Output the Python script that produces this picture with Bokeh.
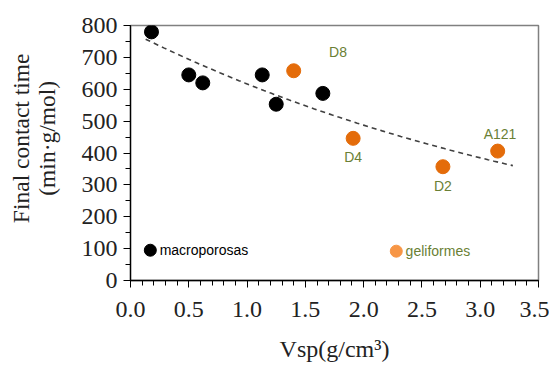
import numpy as np
from bokeh.plotting import figure
from bokeh.models import SingleIntervalTicker, PrintfTickFormatter, Range1d, Label
from bokeh.embed import file_html
from bokeh.resources import INLINE

# Data
macro_x = [0.18, 0.50, 0.62, 1.13, 1.25, 1.65]
macro_y = [780, 645, 620, 645, 553, 587]
gel_x = [1.40, 1.91, 2.68, 3.15]
gel_y = [658, 446, 357, 406]
gel_names = ["D8", "D4", "D2", "A121"]
name_x = [1.78, 1.91, 2.68, 3.17]
name_y = [718, 386, 295, 461]
legend_names = ["macroporosas", "geliformes"]
y_title = ["Final contact time", "(min·g/mol)"]
x_title = "Vsp(g/cm³)"
trend_span = [0.13, 3.28]

# exponential trendline fitted to all points (like a spreadsheet trendline)
all_x = np.array(macro_x + gel_x)
all_y = np.array(macro_y + gel_y)
b, ln_a = np.polyfit(all_x, np.log(all_y), 1)
tx = np.linspace(trend_span[0], trend_span[1], 60)
ty = np.exp(ln_a) * np.exp(b * tx)

p = figure(width=549, height=364, output_backend="svg", toolbar_location=None,
           x_range=Range1d(0, 3.5), y_range=Range1d(0, 800),
           min_border_left=130, min_border_right=11, min_border_top=25, min_border_bottom=84)
p.grid.visible = False
p.outline_line_color = "#808080"
p.outline_line_width = 1.5
p.background_fill_color = "white"
p.border_fill_color = "white"

p.line(tx, ty, line_color="#404040", line_width=1.6, line_dash="5 4")
p.scatter(macro_x, macro_y, size=14, color="black")
p.scatter(gel_x, gel_y, size=14, color="#E46C0A")

# legend markers inside plot
p.scatter([0.17], [95], size=12, color="black")
p.scatter([2.28], [92], size=12, color="#F79646")
p.add_layout(Label(x=0.25, y=95, text=legend_names[0], text_font="Liberation Sans",
                   text_font_size="14px", text_color="black", text_baseline="middle"))
p.add_layout(Label(x=2.36, y=92, text=legend_names[1], text_font="Liberation Sans",
                   text_font_size="14px", text_color="#6A7F35", text_baseline="middle"))

for nx, ny, nm in zip(name_x, name_y, gel_names):
    p.add_layout(Label(x=nx, y=ny, text=nm, text_font="Liberation Sans",
                       text_font_size="14px", text_color="#6A7F35",
                       text_align="center", text_baseline="middle"))

for ax in (p.xaxis[0], p.yaxis[0]):
    ax.axis_line_color = "black"
    ax.axis_line_width = 1.3
    ax.major_tick_line_color = "black"
    ax.minor_tick_line_color = "black"
    ax.major_tick_in = 0
    ax.major_tick_out = 7
    ax.minor_tick_in = 0
    ax.minor_tick_out = 5
    ax.major_label_text_font = "Liberation Serif"
    ax.major_label_text_font_size = "24px"
    ax.major_label_text_color = "#222222"
    ax.axis_label_text_font = "Liberation Serif"
    ax.axis_label_text_font_size = "24px"
    ax.axis_label_text_font_style = "normal"
    ax.axis_label_text_color = "#222222"

p.xaxis.ticker = SingleIntervalTicker(interval=0.5, num_minor_ticks=5)
p.xaxis.formatter = PrintfTickFormatter(format="%.1f")
p.yaxis.ticker = SingleIntervalTicker(interval=100, num_minor_ticks=2)
p.xaxis.axis_label = x_title
p.xaxis.major_label_standoff = 14
p.yaxis.major_label_standoff = 6
p.xaxis.axis_label_standoff = 16

# y title: two lines; leading no-break spaces lift the text above the frame centre as in the reference
pad = "\u00a0" * 5
p.yaxis.axis_label = "\n".join(pad + t for t in y_title)
p.yaxis.axis_label_text_font_size = "23.5px"
p.yaxis.axis_label_text_line_height = 1.0
p.yaxis.axis_label_standoff = 19

open("out.html", "w").write(file_html(p, INLINE))
